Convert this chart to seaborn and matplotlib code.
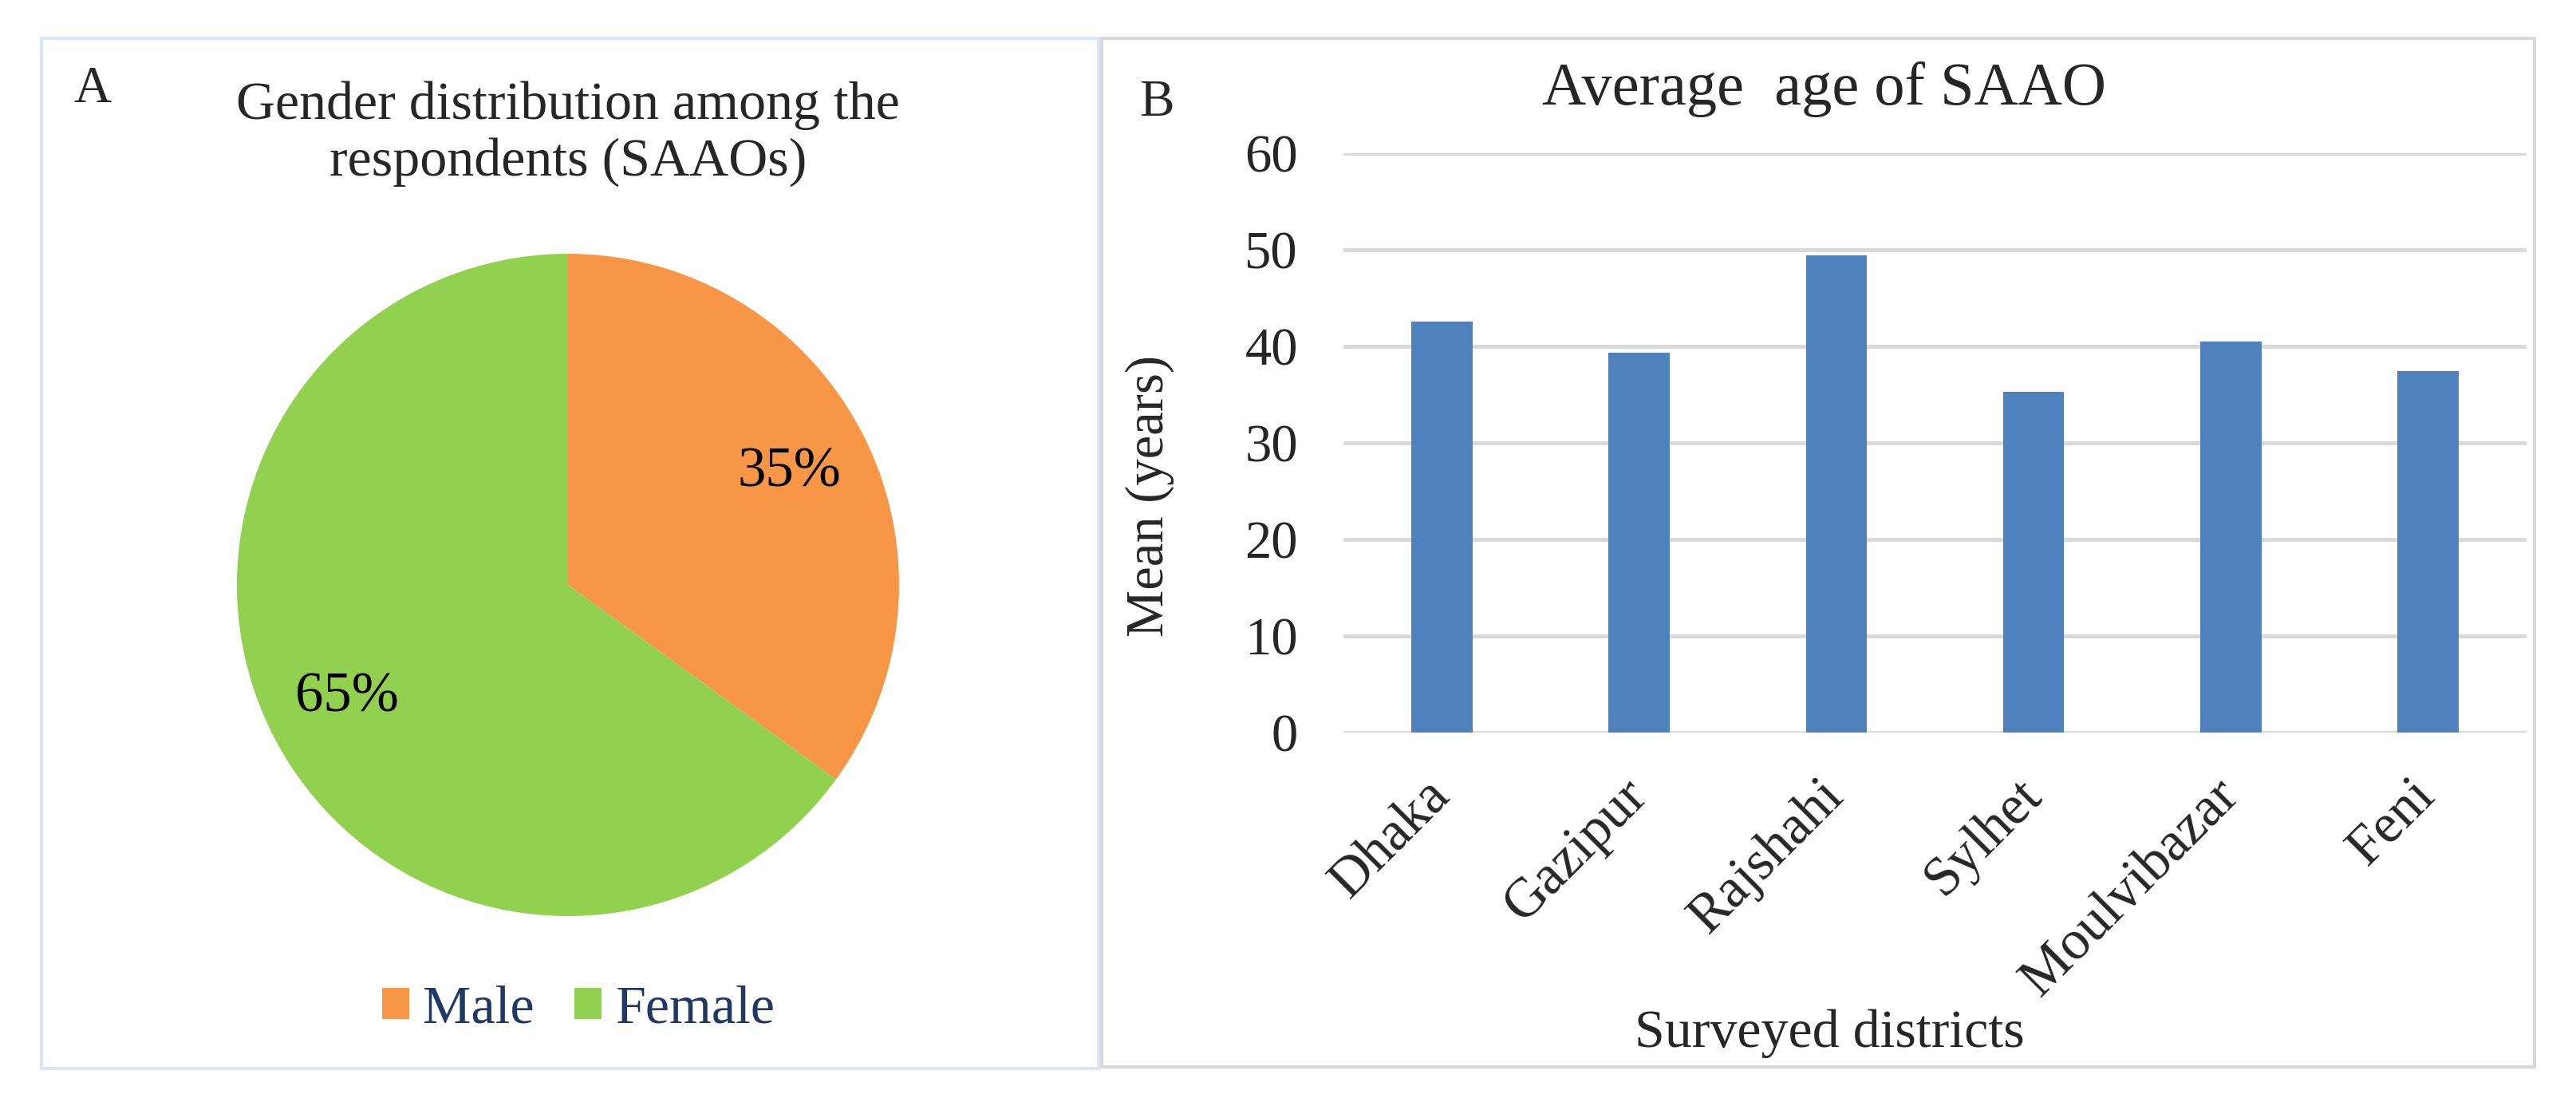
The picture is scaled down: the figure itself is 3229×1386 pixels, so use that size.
import matplotlib
matplotlib.use("Agg")
import matplotlib.pyplot as plt
import pandas as pd
import seaborn as sns
from matplotlib.patches import Patch, Rectangle

# data
genders = ["Male", "Female"]
gender_share = [35, 65]
gender_colors = ["#F79646", "#92D050"]

districts = ["Dhaka", "Gazipur", "Rajshahi", "Sylhet", "Moulvibazar", "Feni"]
mean_age = [42.6, 39.3, 49.4, 35.3, 40.5, 37.4]
y_ticks = [0, 10, 20, 30, 40, 50, 60]

W, H = 3230, 1386

sns.set_style("white")
plt.rcParams["font.family"] = ["Liberation Serif", "DejaVu Serif"]

fig = plt.figure(figsize=(W / 100, H / 100), dpi=100)


def fx(px):
    return px / W


def fy(py):
    return 1 - py / H


# panel frames
fig.patches.append(Rectangle((fx(52), fy(1339)), fx(1377 - 52), (1339 - 48) / H,
                             transform=fig.transFigure, fill=False,
                             edgecolor="#DAE5F5", linewidth=3))
fig.patches.append(Rectangle((fx(1381), fy(1337)), fx(3177 - 1381), (1337 - 48) / H,
                             transform=fig.transFigure, fill=False,
                             edgecolor="#D9D9D9", linewidth=3))

# ---- A: pie ----
cx, cy, r = 712, 733, 415
ax_pie = fig.add_axes([fx(cx - r), fy(cy + r), fx(2 * r), 2 * r / H])
wedges, _, autotexts = ax_pie.pie(gender_share, colors=gender_colors, startangle=90,
                                  counterclock=False, autopct="%.0f%%",
                                  pctdistance=0.75,
                                  wedgeprops=dict(linewidth=0),
                                  textprops=dict(fontsize=51, color="black"))
ax_pie.set_xlim(-1, 1)
ax_pie.set_ylim(-1, 1)
ax_pie.set_aspect("equal")
ax_pie.set_title("Gender distribution among the\nrespondents (SAAOs)", fontsize=49,
                 x=0.5, y=(H - 176 - (H - cy - r)) / (2 * r), va="center",
                 linespacing=1.18)

handles = [Patch(facecolor=c, edgecolor="none", label=g)
           for g, c in zip(genders, gender_colors)]
fig.legend(handles=handles, loc="center", bbox_to_anchor=(fx(725), fy(1265)),
           ncol=2, frameon=False, fontsize=49, labelcolor="#1F3864",
           handlelength=0.5, handleheight=0.5, handletextpad=0.25,
           columnspacing=0.75)

fig.text(fx(116), fy(112), "A", fontsize=47, ha="center", va="center")

# ---- B: bars ----
left, right, top, bottom = 1684, 3167, 192, 918
ax = fig.add_axes([fx(left), fy(bottom), fx(right - left), (bottom - top) / H])
df = pd.DataFrame({"district": districts, "age": mean_age})
sns.barplot(data=df, x="district", y="age", color="#4F81BD", saturation=1,
            width=0.31, linewidth=0, ax=ax)
ax.set_ylim(0, 60)
ax.set_xlim(-0.5, len(districts) - 0.5)
ax.set_yticks(y_ticks)
ax.yaxis.grid(True, color="#D9D9D9", linewidth=3.5)
ax.set_axisbelow(True)
sns.despine(ax=ax, left=True, bottom=True)
ax.tick_params(axis="y", length=0, pad=41, labelsize=48)
ax.tick_params(axis="x", length=0, pad=50, labelsize=50)
plt.setp(ax.get_xticklabels(), rotation=45, ha="right", va="center",
         rotation_mode="anchor")
ax.set_ylabel("Mean (years)", fontsize=48, va="center")
ax.yaxis.set_label_coords(-0.164, 0.408)
ax.set_xlabel("Surveyed districts", fontsize=49, va="center")
ax.xaxis.set_label_coords(0.411, -0.52)
ax.set_title("Average  age of SAAO", fontsize=55, x=0.406, y=1.098, va="center")

fig.text(fx(1450), fy(129), "B", fontsize=47, ha="center", va="center")

fig.savefig("out.png", dpi=100)
